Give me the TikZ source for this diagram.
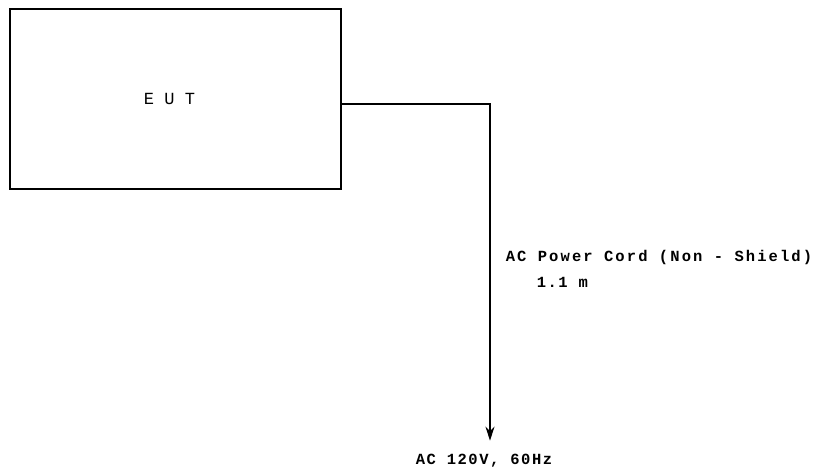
\documentclass[tikz,border=0pt]{standalone}
\usepackage{fontspec}
\setmonofont{Liberation Mono}
\newfontfamily\cordfont[LetterSpace=10]{Liberation Mono}
\newfontfamily\cordwidefont[LetterSpace=13.5]{Liberation Mono}
\usepackage{tikz}
\usetikzlibrary{arrows.meta,positioning,calc}

\begin{document}
\begin{tikzpicture}[
    x=1pt, y=-1pt,
    >={Stealth[length=14pt, width=9pt]},
    line width=1.5pt,
    box/.style={
        rectangle, draw, minimum width=331pt, minimum height=180pt,
        inner sep=0pt, font=\ttfamily\fontsize{17}{18}\selectfont
    },
    label/.style={
        inner sep=0pt, font=\cordfont\bfseries\fontsize{15.5}{18}\selectfont
    }
]
    \useasboundingbox (0,0) rectangle (820,471);

    % EUT and supply
    \node [box] (eut) at (175.5,99) {\hspace*{-12pt}E U T};
    \node [label] (supply) at (484,461) {AC 120V, 60Hz};
    \coordinate (cordout) at (341,104);
    \coordinate (cordend) at ($(supply.north)+(6,-13)$);

    % Cord labels
    \node [label, font=\cordwidefont\bfseries\fontsize{15.5}{18}\selectfont, anchor=west] (cordlabel) at (505,257) {AC Power Cord (Non - Shield)};
    \node [label, anchor=west] (cordlen) at (536,282) {1.1 m};

    % Cord
    \draw [->] (cordout) -| (cordend);

\end{tikzpicture}
\end{document}
